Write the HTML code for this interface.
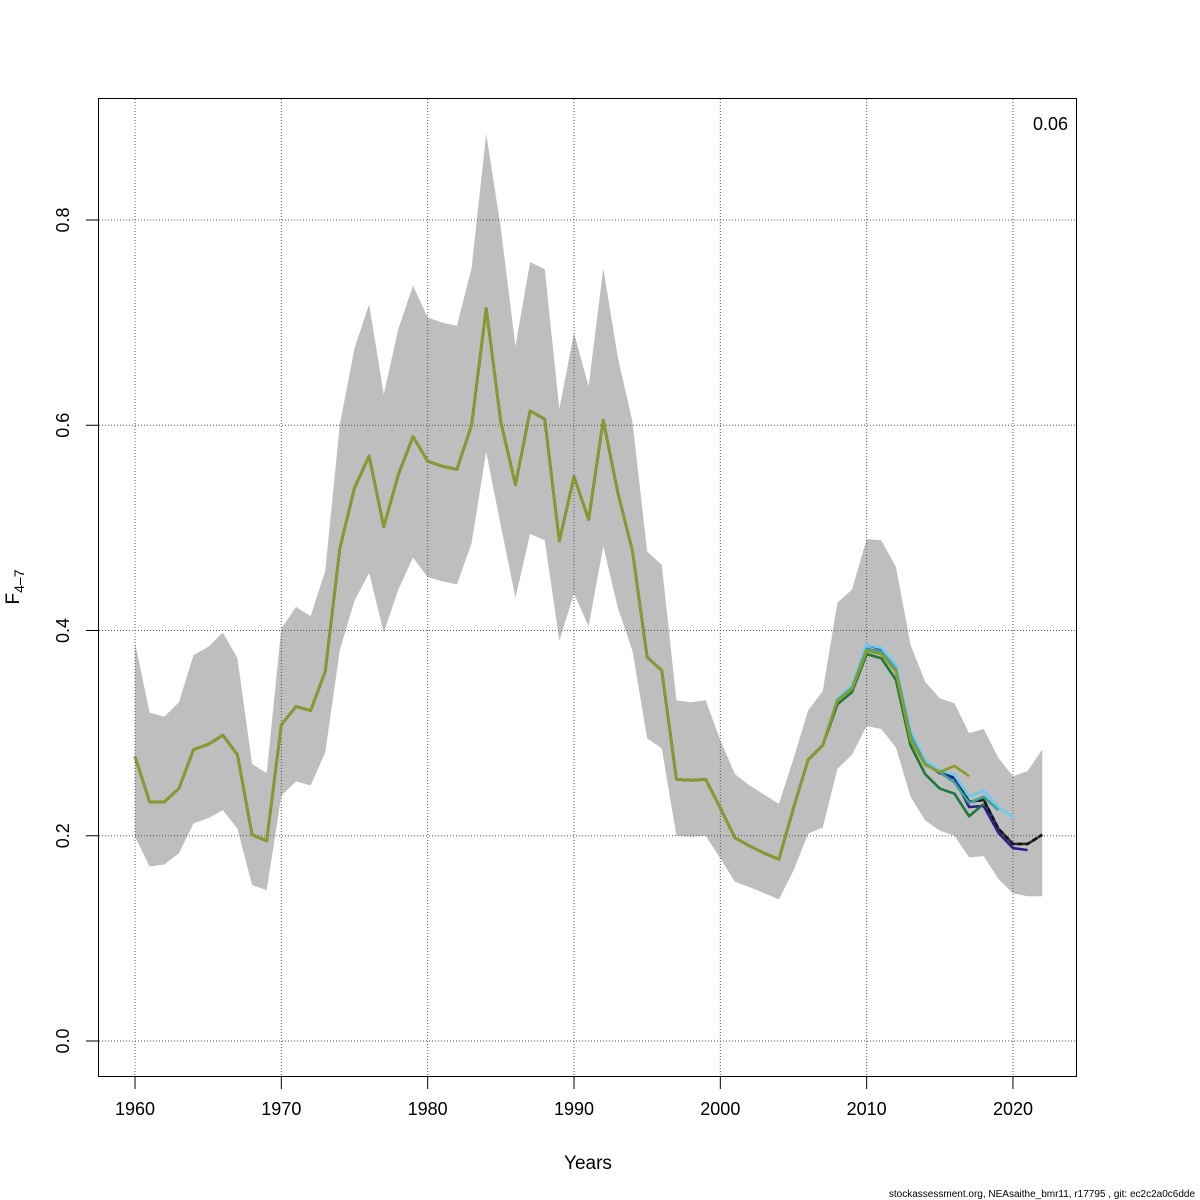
<!DOCTYPE html>
<html><head><meta charset="utf-8"><style>
body{margin:0;background:#fff;}
svg{display:block;font-family:"Liberation Sans",sans-serif;}
</style></head><body>
<svg id="chart" width="1200" height="1200" viewBox="0 0 1200 1200">
<rect width="1200" height="1200" fill="#fff"/>
<g id="band"></g>
<g id="grid"></g>
<g id="lines"></g>
<g id="axes"></g>
<rect x="98.5" y="98.5" width="978" height="978" fill="none" stroke="#000" stroke-width="1"/>
<text x="1068" y="130" font-size="18" text-anchor="end">0.06</text>
<text x="588" y="1169" font-size="19" text-anchor="middle">Years</text>
<text transform="translate(19,587) rotate(-90)" font-size="19" text-anchor="middle">F<tspan font-size="14" dy="5">4–7</tspan></text>
<text x="1195" y="1197" font-size="10" text-anchor="end">stockassessment.org, NEAsaithe_bmr11, r17795 , git: ec2c2a0c6dde</text>
</svg>
<script>
const years=[];for(let y=1960;y<=2022;y++)years.push(y);
const mainF=[0.277,0.233,0.233,0.246,0.284,0.289,0.298,0.279,0.201,0.195,0.308,0.326,0.322,0.360,0.480,0.539,0.570,0.501,0.552,0.589,0.565,0.560,0.557,0.600,0.714,0.603,0.542,0.614,0.606,0.487,0.550,0.508,0.605,0.534,0.477,0.374,0.361,0.255,0.254,0.255,0.227,0.198,0.190,0.183,0.177,0.227,0.274,0.288,0.332,0.344,0.382,0.379,0.363,0.298,0.271,0.262,0.257,0.233,0.235,0.207,0.192,0.192,0.201];
const upperF=[0.388,0.320,0.316,0.330,0.376,0.384,0.398,0.373,0.270,0.261,0.402,0.423,0.414,0.458,0.601,0.675,0.718,0.630,0.694,0.736,0.705,0.700,0.697,0.753,0.884,0.792,0.677,0.759,0.752,0.616,0.690,0.638,0.753,0.666,0.603,0.477,0.464,0.332,0.330,0.332,0.293,0.260,0.249,0.240,0.231,0.275,0.322,0.341,0.427,0.440,0.489,0.488,0.462,0.386,0.350,0.334,0.329,0.300,0.304,0.276,0.258,0.263,0.284];
const lowerF=[0.199,0.170,0.172,0.183,0.212,0.217,0.225,0.207,0.152,0.147,0.239,0.253,0.249,0.281,0.381,0.429,0.456,0.398,0.440,0.471,0.452,0.448,0.445,0.485,0.574,0.502,0.432,0.494,0.488,0.390,0.436,0.404,0.482,0.422,0.380,0.295,0.285,0.200,0.199,0.200,0.178,0.155,0.150,0.144,0.138,0.166,0.202,0.208,0.265,0.279,0.307,0.304,0.286,0.238,0.215,0.205,0.200,0.179,0.180,0.158,0.144,0.141,0.141];
// retrospective peels: values from 2008 onward
const tailOlive=[0.332,0.343,0.380,0.377,0.360,0.293,0.269,0.262,0.268,0.258];
const tailGreen=[0.328,0.340,0.377,0.373,0.352,0.288,0.260,0.246,0.241,0.219,0.231];
const tailTeal=[0.332,0.344,0.382,0.379,0.362,0.298,0.270,0.262,0.252,0.232,0.238,0.225];
const tailBlue=[0.334,0.346,0.386,0.383,0.366,0.302,0.273,0.264,0.259,0.238,0.244,0.228,0.218];
const tailPurple=[0.333,0.345,0.386,0.382,0.364,0.299,0.271,0.261,0.256,0.228,0.229,0.203,0.188,0.186];
const xTicks=[1960,1970,1980,1990,2000,2010,2020];
const yTicks=[0.0,0.2,0.4,0.6,0.8];
const yTickLabels=["0.0","0.2","0.4","0.6","0.8"];
const X=y=>135+(y-1960)*14.633;
const Y=v=>1041-v*1026.25;
const NS="http://www.w3.org/2000/svg";
function mk(tag,parent,attrs){const e=document.createElementNS(NS,tag);for(const k in attrs)e.setAttribute(k,attrs[k]);parent.appendChild(e);return e;}
const band=document.getElementById('band'),grid=document.getElementById('grid'),lines=document.getElementById('lines'),axes=document.getElementById('axes');
let d='';years.forEach((y,i)=>{d+=(i?'L':'M')+X(y)+','+Y(upperF[i]);});
for(let i=years.length-1;i>=0;i--)d+='L'+X(years[i])+','+Y(lowerF[i]);
const bp=mk('path',band,{d:d+'Z',fill:'#bebebe'});


xTicks.forEach(t=>{
 const g=mk('line',grid,{x1:X(t),x2:X(t),y1:99,y2:1076,stroke:'#555','stroke-dasharray':'1,2','stroke-width':1});
 
 
 const tk=mk('line',axes,{x1:X(t),x2:X(t),y1:1077,y2:1089,stroke:'#000'});
 
 
 const tx=mk('text',axes,{x:X(t),y:1115,'font-size':18,'text-anchor':'middle'});tx.textContent=t;
 
 
});
yTicks.forEach((t,i)=>{
 const g=mk('line',grid,{x1:99,x2:1076,y1:Y(t),y2:Y(t),stroke:'#555','stroke-dasharray':'1,2','stroke-width':1});
 
 
 const tk=mk('line',axes,{x1:86,x2:98,y1:Y(t),y2:Y(t),stroke:'#000'});
 
 
 const tx=mk('text',axes,{transform:`translate(69,${Y(t)}) rotate(-90)`,'font-size':18,'text-anchor':'middle'});tx.textContent=yTickLabels[i];
 
 
});
function line(vals,color,name,dash){
 let p='';vals.forEach((v,i)=>{p+=(i?'L':'M')+X(years[i])+','+Y(v);});
 const a={d:p,fill:'none',stroke:color,'stroke-width':2.6,'stroke-linejoin':'round'};
 if(dash)a['stroke-dasharray']=dash;
 const e=mk('path',lines,a);
 
 
}
const head=mainF.slice(0,48);
line(mainF,'#333','main-series-base');
line(mainF,'#111','main-series','5,3');
line(head.concat(tailPurple),'#2e1f8c','peel-2021');
line(head.concat(tailBlue),'#6ccbf0','peel-2020');
line(head.concat(tailTeal),'#3aa39a','peel-2019');
line(head.concat(tailGreen),'#1b7a3a','peel-2018');
line(head.concat(tailOlive),'#8f9a26','peel-2017');
</script>
</body></html>
